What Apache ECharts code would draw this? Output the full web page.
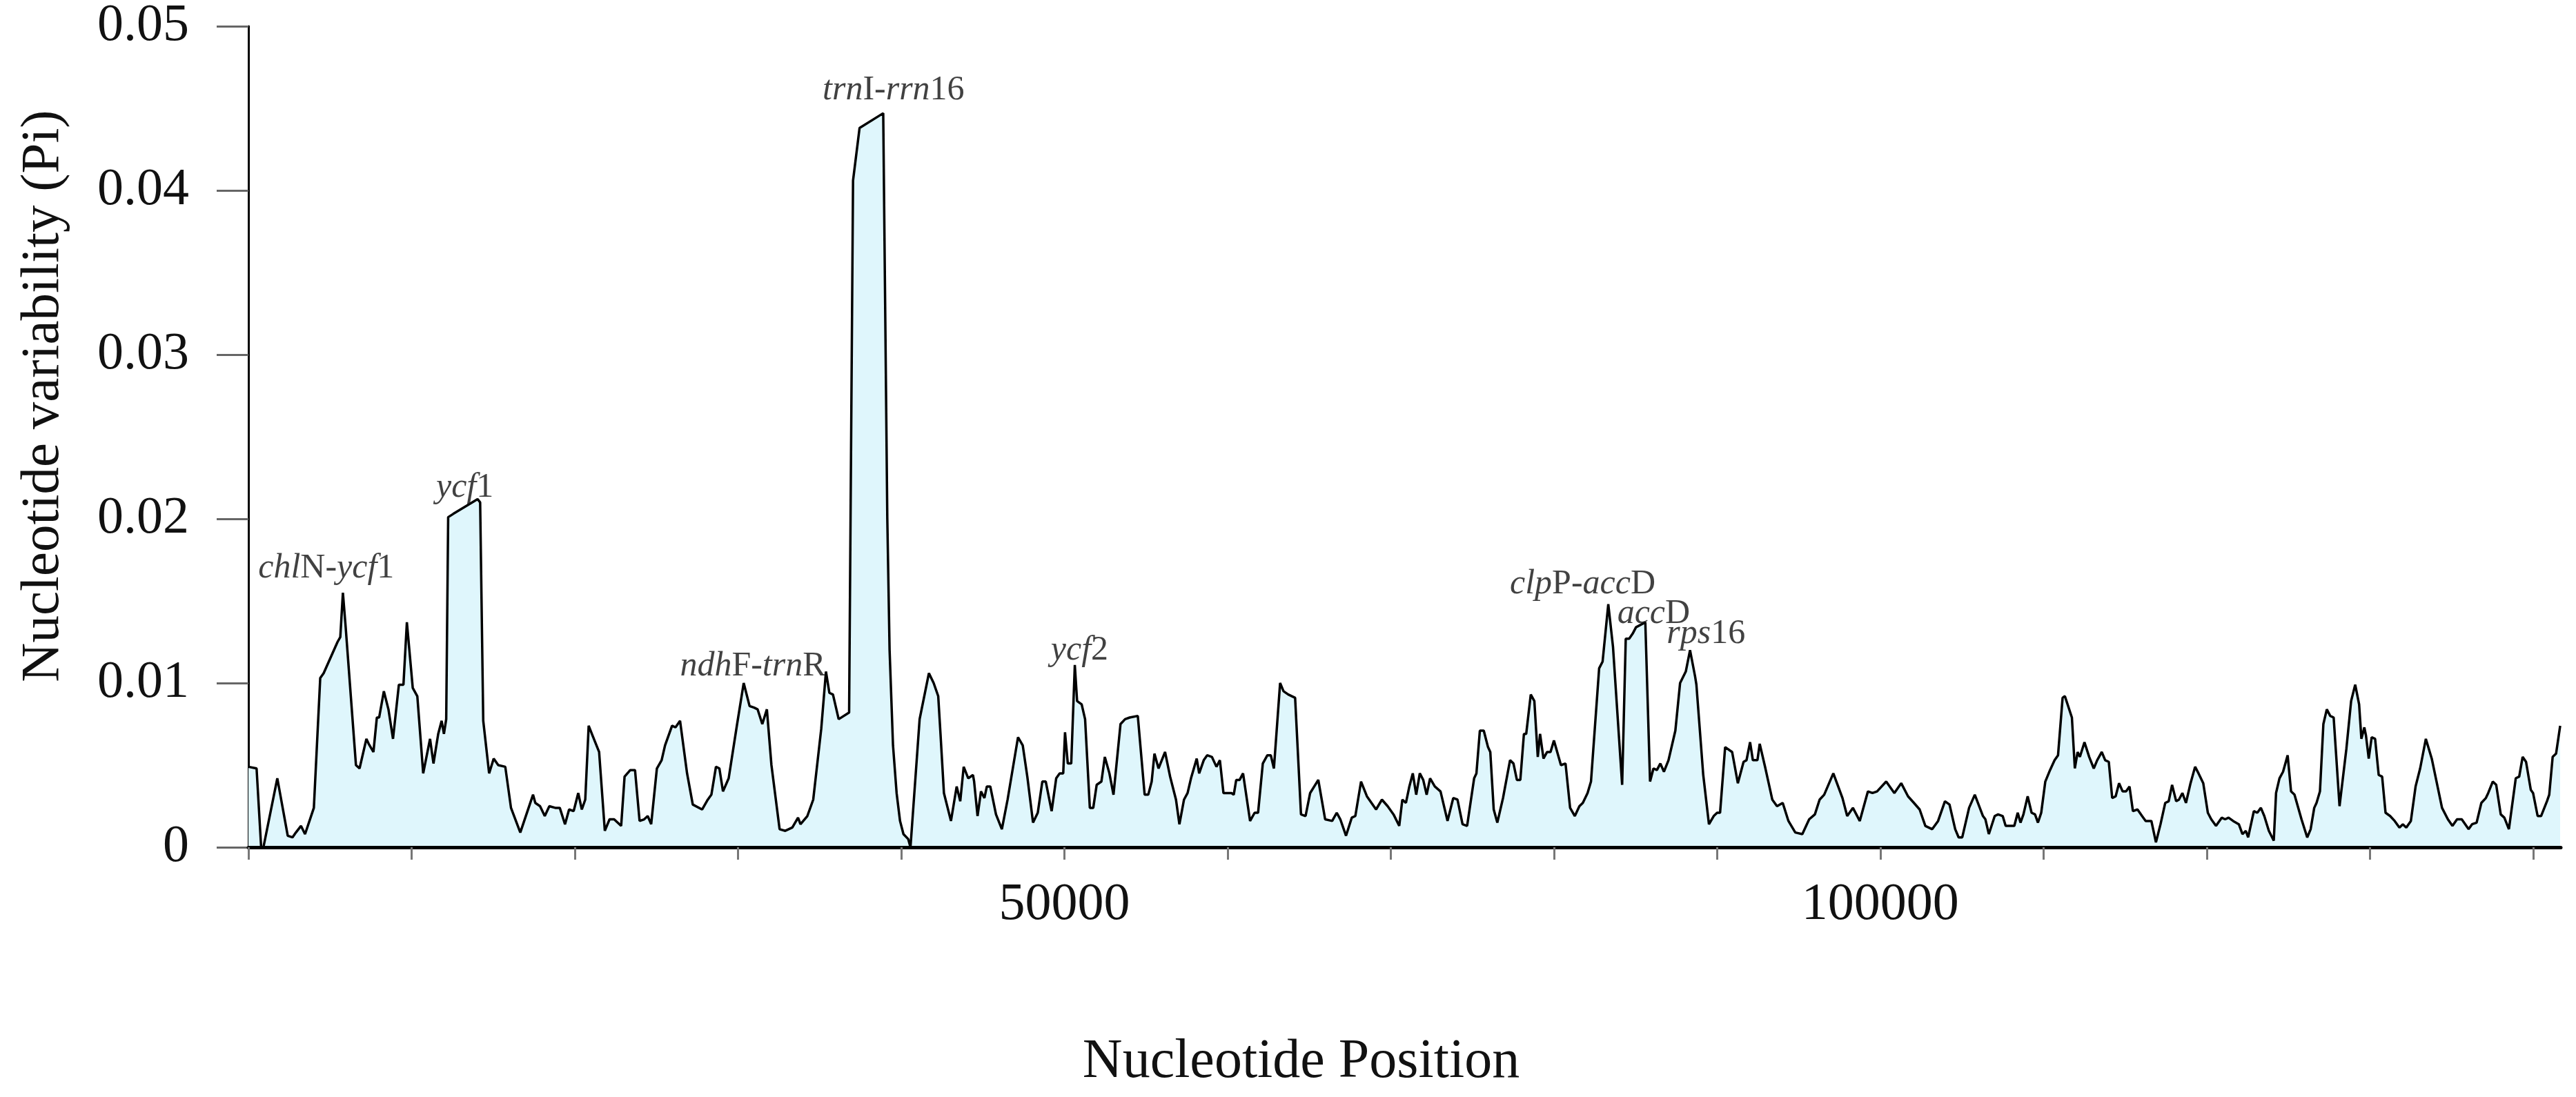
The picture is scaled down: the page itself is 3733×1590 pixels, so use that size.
<!DOCTYPE html>
<html>
<head>
<meta charset="utf-8">
<script src="https://cdn.jsdelivr.net/npm/echarts@6/dist/echarts.min.js"></script>
<style>
html,body{margin:0;padding:0;background:#fff;}
#chart{width:3733px;height:1590px;}
</style>
</head>
<body>
<div id="chart"></div>
<script>
// Nucleotide position (bp)
const positions = [
  0,500,780,920,1770,2410,2700,2910,3220,3470,
  4010,4400,4610,5460,5630,5790,5960,6590,6810,7230,
  7370,7660,7870,8010,8300,8580,8860,9220,9500,9710,
  10070,10350,10710,11130,11340,11630,11840,11980,12120,12240,
  12550,14040,14200,14390,14750,15030,15310,15740,16090,16660,
  17440,17580,17870,18160,18440,18800,19080,19400,19650,19930,
  20210,20430,20640,20850,21130,21490,21840,22130,22410,22840,
  23050,23400,23690,23970,24250,24470,24680,25030,25320,25530,
  25960,26170,26450,26880,27230,27800,28150,28370,28650,28860,
  29080,29430,29930,30350,30710,30990,31200,31490,31770,32050,
  32550,32900,33330,33680,33830,34250,34610,35100,35390,35600,
  35820,36170,36810,37050,37450,38900,39150,39290,39500,39720,
  39930,40140,40430,40570,41130,41700,41990,42270,42410,42620,
  43050,43400,43620,43830,44110,44400,44470,44680,44890,45100,
  45250,45460,45810,46170,46520,47160,47450,47730,48080,48370,
  48650,48860,49220,49500,49710,49930,50040,50210,50420,50640,
  50780,51060,51270,51560,51770,51980,52270,52480,52760,53010,
  53440,53720,54000,54500,54920,55140,55350,55520,55770,56170,
  56480,56840,57050,57330,57550,57760,58110,58260,58540,58750,
  59040,59320,59530,59750,60240,60380,60530,60740,60950,61380,
  61660,61870,62160,62440,62650,62840,63220,63430,63720,64140,
  64500,64780,65060,65560,65980,66410,66690,66910,67260,67610,
  67830,68180,68540,69100,69460,69810,70170,70520,70710,70930,
  71140,71350,71560,71780,71990,72200,72410,72700,73050,73480,
  73830,74090,74400,74680,75110,75250,75460,75700,75960,76100,
  76310,76530,76880,77310,77520,77730,77940,78160,78300,78580,
  78800,79010,79150,79360,79580,79790,80000,80430,80710,80990,
  81280,81560,81770,82060,82270,82770,82980,83330,83620,84180,
  84400,84610,84820,85030,85600,85890,86100,86310,86520,86740,
  87020,87440,87730,88080,88340,88650,88730,89150,89500,89790,
  90000,90180,90490,90920,91270,91620,91800,92020,92190,92470,
  92610,92960,93380,93670,94020,94370,94790,95220,95640,95990,
  96280,96560,97120,97680,97970,98320,98740,99240,99520,99800,
  100360,100860,101280,101700,102060,102410,102760,103180,103540,103960,
  104240,104590,104800,105020,105440,105790,106290,106440,106650,107010,
  107220,107500,107680,108210,108420,108590,108770,109030,109270,109480,
  109660,109860,110110,110400,110680,110890,111170,111310,111740,111920,
  112090,112230,112510,112800,113080,113290,113570,113780,114000,114210,
  114420,114630,114850,115060,115270,115480,115760,116040,116260,116610,
  116890,117170,117460,117670,117880,118130,118300,118510,118730,119010,
  119290,119500,119790,120070,120280,120570,120920,121130,121340,121620,
  121970,122190,122400,122540,122890,123100,123320,123530,123810,124110,
  124250,124460,124680,124960,125170,125380,125810,126160,126370,126590,
  126730,126940,127150,127360,127570,127780,128140,128560,128850,129100,
  129340,129480,129660,129760,129930,130110,130320,130540,130750,130960,
  131240,131520,131810,132020,132230,132510,132800,133080,133430,133790,
  134420,134780,135060,135340,135630,136050,136260,136540,136830,137110,
  137250,137530,137740,138020,138240,138520,138940,139150,139360,139570,
  139860,140000,140280,140490,140850,140990,141200,141410,141660
];
// Nucleotide variability (Pi) at each position
const pi = [
  .0049,.0048,0,0,.0042,.0007,.0006,.0009,.0013,.0008,
  .0024,.0103,.0106,.0125,.0128,.0155,.0134,.0050,.0048,.0066,
  .0063,.0058,.0079,.0079,.0095,.0084,.0066,.0099,.0099,.0137,
  .0097,.0092,.0045,.0066,.0051,.0069,.0077,.0069,.0078,.0201,
  .0203,.0212,.0210,.0077,.0045,.0054,.0050,.0049,.0024,.0009,
  .0032,.0027,.0025,.0019,.0025,.0024,.0024,.0014,.0023,.0022,
  .0033,.0023,.0029,.0074,.0067,.0058,.0010,.0017,.0017,.0013,
  .0043,.0047,.0047,.0016,.0017,.0019,.0014,.0048,.0053,.0062,
  .0074,.0073,.0077,.0045,.0026,.0023,.0029,.0032,.0049,.0048,
  .0034,.0042,.0074,.0100,.0086,.0085,.0084,.0075,.0084,.0050,
  .0011,.0010,.0012,.0018,.0014,.0019,.0029,.0072,.0107,.0094,
  .0093,.0078,.0082,.0406,.0438,.0447,.0200,.0120,.0062,.0033,
  .0016,.0008,.0005,0,.0078,.0106,.0100,.0092,.0069,.0033,
  .0016,.0037,.0028,.0049,.0042,.0044,.0040,.0019,.0034,.0030,
  .0037,.0037,.0020,.0011,.0029,.0067,.0062,.0043,.0015,.0021,
  .0040,.0040,.0022,.0042,.0045,.0045,.0070,.0051,.0051,.0111,
  .0089,.0087,.0078,.0024,.0024,.0038,.0040,.0055,.0045,.0032,
  .0075,.0078,.0079,.0080,.0032,.0032,.0040,.0057,.0048,.0058,
  .0043,.0029,.0014,.0029,.0033,.0042,.0054,.0045,.0053,.0056,
  .0055,.0049,.0053,.0033,.0033,.0032,.0041,.0041,.0045,.0016,
  .0021,.0021,.0051,.0056,.0056,.0048,.0100,.0095,.0093,.0091,
  .0020,.0019,.0033,.0041,.0017,.0016,.0021,.0017,.0007,.0018,
  .0019,.0040,.0031,.0023,.0029,.0025,.0020,.0013,.0029,.0027,
  .0037,.0045,.0032,.0045,.0041,.0032,.0042,.0037,.0034,.0016,
  .0030,.0029,.0014,.0013,.0042,.0045,.0071,.0071,.0061,.0058,
  .0023,.0015,.0030,.0053,.0051,.0041,.0041,.0069,.0069,.0093,
  .0089,.0055,.0069,.0054,.0058,.0058,.0065,.0050,.0051,.0024,
  .0019,.0025,.0027,.0033,.0040,.0109,.0113,.0148,.0122,.0038,
  .0127,.0127,.0130,.0134,.0137,.0040,.0048,.0047,.0051,.0046,
  .0053,.0071,.0100,.0107,.0120,.0104,.0099,.0044,.0014,.0019,
  .0021,.0021,.0061,.0058,.0039,.0052,.0053,.0064,.0053,.0053,
  .0063,.0048,.0029,.0025,.0027,.0016,.0009,.0008,.0017,.0020,
  .0029,.0032,.0045,.0030,.0019,.0024,.0016,.0034,.0033,.0034,
  .0040,.0033,.0039,.0031,.0027,.0023,.0013,.0011,.0016,.0028,
  .0026,.0011,.0006,.0006,.0024,.0032,.0019,.0017,.0008,.0019,
  .0020,.0019,.0013,.0013,.0021,.0015,.0020,.0031,.0021,.0020,
  .0015,.0021,.0040,.0047,.0053,.0056,.0091,.0092,.0079,.0048,
  .0058,.0055,.0064,.0055,.0048,.0053,.0058,.0053,.0052,.0030,
  .0031,.0039,.0034,.0034,.0037,.0022,.0023,.0019,.0016,.0016,
  .0003,.0014,.0027,.0028,.0038,.0028,.0029,.0033,.0027,.0039,
  .0049,.0045,.0039,.0021,.0017,.0013,.0018,.0017,.0018,.0016,
  .0014,.0008,.0010,.0006,.0022,.0021,.0024,.0019,.0010,.0004,
  .0033,.0042,.0046,.0056,.0034,.0032,.0017,.0006,.0011,.0024,
  .0027,.0034,.0075,.0084,.0080,.0079,.0025,.0060,.0089,.0099,
  .0087,.0066,.0073,.0068,.0054,.0067,.0066,.0044,.0043,.0021,
  .0019,.0016,.0012,.0014,.0012,.0016,.0037,.0048,.0066,.0054,
  .0024,.0017,.0013,.0017,.0017,.0011,.0014,.0015,.0027,.0030,
  .0033,.0040,.0038,.0020,.0018,.0011,.0042,.0043,.0055,.0052,
  .0035,.0033,.0019,.0019,.0028,.0032,.0055,.0057,.0074
];

// Highlighted regions (text with italic parts), and where their labels sit (bp, Pi)
const geneLabels = [
  [['i','chl'],['n','N-'],['i','ycf'],['n','1']],
  [['i','ycf'],['n','1']],
  [['i','ndh'],['n','F-'],['i','trn'],['n','R']],
  [['i','trn'],['n','I-'],['i','rrn'],['n','16']],
  [['i','ycf'],['n','2']],
  [['i','clp'],['n','P-'],['i','acc'],['n','D']],
  [['i','acc'],['n','D']],
  [['i','rps'],['n','16']]
];
const labelPos = [4770, 13260, 30910, 39530, 50930, 81760, 86110, 89320];
const labelPi  = [0.0170, 0.0219, 0.0110, 0.0461, 0.0120, 0.0160, 0.0142, 0.0130];

// Axis ticks and labels
const xTicks = [0,10000,20000,30000,40000,50000,60000,70000,80000,90000,100000,110000,120000,130000,140000];
const xTickLabels = [50000, 100000];
const yTicks = [0, 0.01, 0.02, 0.03, 0.04, 0.05];

const FONT = '"Liberation Serif", "Times New Roman", serif';

const lineData = positions.map((p, i) => [p, pi[i]]);
const labelData = labelPos.map((p, i) => ({
  value: [p, labelPi[i]],
  text: geneLabels[i].map(s => '{' + s[0] + '|' + s[1] + '}').join('')
}));

const chart = echarts.init(document.getElementById('chart'), null, {renderer: 'canvas'});
chart.setOption({
  animation: false,
  backgroundColor: '#ffffff',
  grid: {left: 360, right: 22, top: 33, bottom: 362, containLabel: false},
  xAxis: {
    type: 'value',
    min: 0,
    max: 141700,
    interval: 10000,
    z: 10,
    name: 'Nucleotide Position',
    nameLocation: 'middle',
    nameGap: 272,
    nameTextStyle: {fontFamily: FONT, fontSize: 80, color: '#111', padding: [0, 300, 0, 0]},
    axisLine: {show: true, lineStyle: {color: '#000', width: 5}},
    axisTick: {show: true, length: 18, lineStyle: {color: '#777', width: 3}, customValues: xTicks},
    axisLabel: {
      fontFamily: FONT, fontSize: 76, color: '#111', margin: 46,
      customValues: xTickLabels,
      formatter: v => String(v)
    },
    splitLine: {show: false}
  },
  yAxis: {
    type: 'value',
    min: 0,
    max: 0.05,
    interval: 0.01,
    name: 'Nucleotide variability (Pi)',
    nameLocation: 'middle',
    nameRotate: 90,
    nameGap: 257,
    nameTextStyle: {fontFamily: FONT, fontSize: 79, color: '#111', padding: [0, 0, 0, 118]},
    axisLine: {show: true, lineStyle: {color: '#000', width: 3}},
    axisTick: {show: true, length: 46, lineStyle: {color: '#666', width: 3}, customValues: yTicks},
    axisLabel: {
      fontFamily: FONT, fontSize: 76, color: '#111', margin: 86,
      customValues: yTicks,
      formatter: v => (v === 0 ? '0' : v.toFixed(2))
    },
    splitLine: {show: false}
  },
  series: [
    {
      type: 'line',
      data: lineData,
      symbol: 'none',
      smooth: false,
      lineStyle: {color: '#000', width: 3.5},
      areaStyle: {color: '#dff6fc', opacity: 1},
      silent: true,
      z: 2
    },
    {
      type: 'scatter',
      data: labelData,
      symbolSize: 1,
      itemStyle: {color: 'rgba(0,0,0,0)'},
      silent: true,
      z: 5,
      label: {
        show: true,
        position: 'inside',
        formatter: p => p.data.text,
        rich: {
          i: {fontFamily: FONT, fontSize: 50, fontStyle: 'italic', color: '#111'},
          n: {fontFamily: FONT, fontSize: 50, color: '#111'}
        }
      }
    }
  ]
});
</script>
</body>
</html>
